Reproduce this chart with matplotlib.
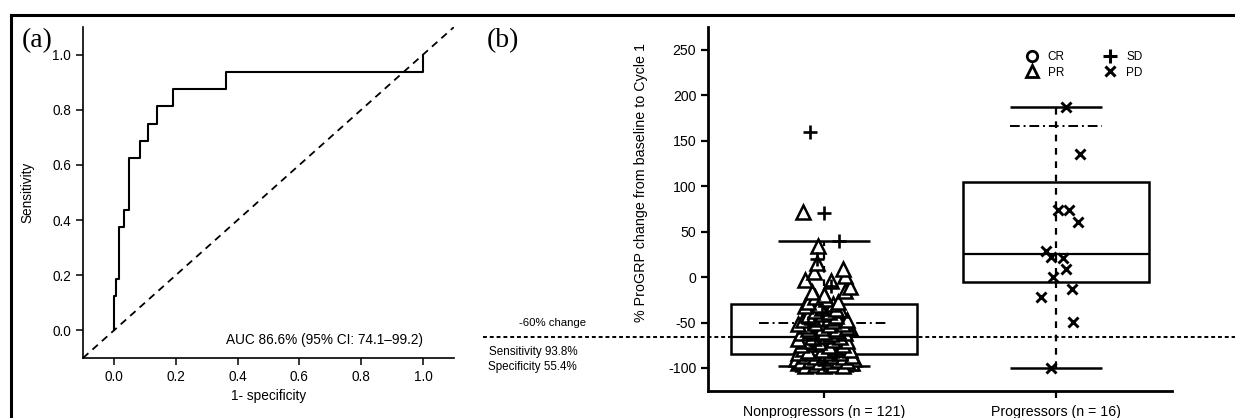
import matplotlib
matplotlib.use("Agg")
import matplotlib.pyplot as plt
import matplotlib.transforms as mtransforms
from matplotlib.lines import Line2D

plt.rcParams['font.family'] = ['Liberation Sans', 'DejaVu Sans']
plt.rcParams['axes.unicode_minus'] = False

# --- panel (a): ROC curve ---
roc_fpr = [0.0, 0.0, 0.008, 0.017, 0.033, 0.050, 0.083, 0.110, 0.140, 0.190, 0.364, 1.0, 1.0]
roc_tpr = [0.0, 0.125, 0.1875, 0.375, 0.4375, 0.625, 0.6875, 0.75, 0.8125, 0.875, 0.9375, 0.9375, 1.0]
auc_text = "AUC 86.6% (95% CI: 74.1\u201399.2)"

# --- panel (b): box plot summary ---
groups = ["Nonprogressors (n = 121)", "Progressors (n = 16)"]
group_pos = [1, 2]
box_q1 = [-85, -5]
box_q3 = [-30, 104]
box_med = [-66, 25]
whisk_lo = [-98, -100]
whisk_hi = [40, 187]
dashdot_y = [-50, 166]
dashdot_lo = [0.72, 1.80]
dashdot_hi = [1.27, 2.20]
cutoff = -66

# nonprogressors, partial response (triangles)
pr_x = [0.89, 0.91, 0.93, 0.95, 0.97, 0.99, 1.01, 1.03, 1.05, 1.07, 1.09, 1.11, 1.12,
        0.92, 0.96, 1.00, 1.04, 1.08,
        0.88, 0.93, 0.97, 1.01, 1.05, 1.09, 1.13,
        0.90, 0.94, 0.98, 1.02, 1.06, 1.10,
        0.92, 0.96, 1.00, 1.04, 1.08, 1.12,
        0.89, 0.95, 1.01, 1.07,
        0.91, 0.97, 1.03, 1.09,
        0.93, 0.99, 1.05, 1.11,
        0.90, 0.96, 1.02, 1.08,
        0.92, 0.98, 1.04, 1.10, 0.89,
        0.95, 1.01, 1.07,
        0.90, 0.97, 1.03, 1.09,
        0.94, 1.00, 1.06,
        0.93, 0.99, 1.05, 1.11, 0.92, 1.10,
        0.89, 0.96, 1.02, 1.08,
        0.91, 0.98, 1.04, 1.10, 0.95, 1.02,
        0.93, 0.99, 1.05,
        0.96, 1.02, 1.07, 0.99, 1.05,
        0.92, 0.98, 1.04,
        0.93, 1.01, 1.06,
        0.96, 1.00,
        0.95, 1.09,
        1.11,
        0.92, 1.03,
        1.09, 0.955, 1.08, 0.97, 0.973, 0.91]
pr_y = [-95, -96, -94, -95, -96, -94, -95, -96, -94, -95, -96, -94, -95,
        -98, -97, -98, -97, -98,
        -90, -91, -89, -90, -91, -89, -90,
        -92, -91, -93, -92, -91, -92,
        -87, -88, -86, -87, -88, -87,
        -84, -83, -84, -83,
        -79, -78, -80, -79,
        -81, -80, -79, -80,
        -75, -74, -76, -75,
        -70, -71, -69, -70, -68,
        -66, -65, -66,
        -62, -61, -63, -62,
        -59, -60, -59,
        -57, -56, -57, -56, -54, -55,
        -52, -51, -53, -52,
        -47, -46, -48, -47, -44, -45,
        -42, -41, -43,
        -37, -38, -36, -34, -35,
        -32, -31, -30,
        -27, -24, -27,
        -22, -20,
        -16, -15,
        -11,
        -3, -4,
        1, 6, 9, 15, 34, 72]
# nonprogressors, stable disease (plus)
sd_x = [0.94, 1.00, 1.065, 0.97, 1.03, 0.93, 1.00, 0.96, 1.05, 0.99]
sd_y = [160, 70, 40, 20, -10, -50, -97, -75, -85, -40]
# progressors, progressive disease (cross)
pd_x = [2.044, 2.103, 2.009, 2.058, 2.096, 1.959, 1.980, 2.031, 2.044, 1.986, 2.070, 1.936, 2.074, 1.979]
pd_y = [187, 135, 74, 74, 60, 29, 22, 21, 9, 0, -13, -22, -49, -100]

fig = plt.figure(figsize=(12.35, 4.18), dpi=100)

# outer frame (only left and top edges visible)
fig.add_artist(Line2D([11 / 1235, 11 / 1235], [0, 1 - 15 / 418], transform=fig.transFigure,
                      color='black', lw=2.2))
fig.add_artist(Line2D([11 / 1235, 1], [1 - 15 / 418, 1 - 15 / 418], transform=fig.transFigure,
                      color='black', lw=2.2))

# ---------------- panel (a) ----------------
ax1 = fig.add_axes([83 / 1235, 1 - 358 / 418, (454 - 83) / 1235, (358 - 27) / 418])
ax1.step(roc_fpr, roc_tpr, where='post', color='black', lw=1.5)
ax1.plot([-0.1, 1.1], [-0.1, 1.1], color='black', lw=1.3, ls=(0, (4, 3)))
ax1.set_xlim(-0.1, 1.1)
ax1.set_ylim(-0.1, 1.1)
ticks = [0.0, 0.2, 0.4, 0.6, 0.8, 1.0]
ax1.set_xticks(ticks)
ax1.set_yticks(ticks)
ax1.set_xticklabels([f"{t:.1f}" for t in ticks])
ax1.set_yticklabels([f"{t:.1f}" for t in ticks])
ax1.tick_params(labelsize=9.8, length=5, width=1.1, direction='out')
ax1.spines['top'].set_visible(False)
ax1.spines['right'].set_visible(False)
for s in ['left', 'bottom']:
    ax1.spines[s].set_linewidth(1.2)
ax1.set_xlabel("1- specificity", fontsize=9.8, labelpad=4)
ax1.set_ylabel("Sensitivity", fontsize=9.8, labelpad=13)
ax1.text(1.0, -0.036, auc_text, ha='right', va='center', fontsize=9.8)
fig.text(22 / 1235, 1 - 47 / 418, "(a)", fontsize=20, family=['Liberation Serif', 'DejaVu Serif'],
         ha='left', va='baseline')

# ---------------- panel (b) ----------------
ax2 = fig.add_axes([708 / 1235, 1 - 390.7 / 418, (1172 - 708) / 1235, (390.7 - 27) / 418])
for i, p in enumerate(group_pos):
    ax2.bar(p, box_q3[i] - box_q1[i], bottom=box_q1[i], width=0.8, fill=False,
            edgecolor='black', lw=1.8, zorder=2)
    ax2.hlines(box_med[i], p - 0.4, p + 0.4, color='black', lw=1.6, zorder=2)
    ax2.vlines(p, whisk_lo[i], whisk_hi[i], color='black', lw=1.6, ls=(0, (3, 3)), zorder=1)
    ax2.hlines([whisk_lo[i], whisk_hi[i]], p - 0.2, p + 0.2, color='black', lw=1.8, zorder=2)
    ax2.hlines(dashdot_y[i], dashdot_lo[i], dashdot_hi[i], color='black', lw=1.4,
               ls=(0, (5, 2, 1, 2)), zorder=2)

ax2.plot(pr_x, pr_y, ls='none', marker='^', ms=10, mfc='white', mec='black', mew=1.8, zorder=3)
ax2.plot(sd_x, sd_y, ls='none', marker='+', ms=10, mec='black', mew=1.9, zorder=4)
ax2.plot(pd_x, pd_y, ls='none', marker='x', ms=7.5, mec='black', mew=2.1, zorder=4)

# -60% cutoff line extending across the figure
blend = mtransforms.blended_transform_factory(fig.transFigure, ax2.transData)
ax2.add_artist(Line2D([483 / 1235, 1.0], [cutoff, cutoff], transform=blend, color='black',
                      lw=1.4, ls=(0, (2, 1.5)), clip_on=False, zorder=1))
fig.text(553 / 1235, 1 - 323 / 418, "-60% change", fontsize=8.2, ha='center', va='center')
fig.text(489 / 1235, 1 - 352 / 418, "Sensitivity 93.8%", fontsize=8.4, ha='left', va='center')
fig.text(488 / 1235, 1 - 367 / 418, "Specificity 55.4%", fontsize=8.4, ha='left', va='center')
fig.text(487 / 1235, 1 - 47 / 418, "(b)", fontsize=20, family=['Liberation Serif', 'DejaVu Serif'],
         ha='left', va='baseline')

ax2.set_xlim(0.5, 2.5)
ax2.set_ylim(-125, 275)
ax2.set_yticks([-100, -50, 0, 50, 100, 150, 200, 250])
ax2.set_xticks(group_pos)
ax2.set_xticklabels(groups)
ax2.tick_params(labelsize=10.2, length=5, width=1.6, direction='out')
ax2.tick_params(axis='x', pad=5)
ax2.spines['top'].set_visible(False)
ax2.spines['right'].set_visible(False)
for s in ['left', 'bottom']:
    ax2.spines[s].set_linewidth(2.0)
ax2.set_ylabel("% ProGRP change from baseline to Cycle 1", fontsize=10.3, labelpad=14)
ax2.yaxis.label.set_y(0.572)

handles = [
    Line2D([], [], ls='none', marker='o', ms=7.5, mfc='none', mec='black', mew=2),
    Line2D([], [], ls='none', marker='^', ms=9, mfc='none', mec='black', mew=2),
    Line2D([], [], ls='none', marker='+', ms=10, mec='black', mew=2.2),
    Line2D([], [], ls='none', marker='x', ms=7, mec='black', mew=2.2),
]
fig.legend(handles, ["CR", "PR", "SD", "PD"], ncol=2, frameon=False, fontsize=8.5,
           loc='upper left', bbox_to_anchor=(1026 / 1235, 1 - 51 / 418),
           handlelength=1.0, handletextpad=0.85, columnspacing=3.35, labelspacing=0.3,
           borderpad=0, borderaxespad=0)

fig.savefig("out.png", dpi=100)
